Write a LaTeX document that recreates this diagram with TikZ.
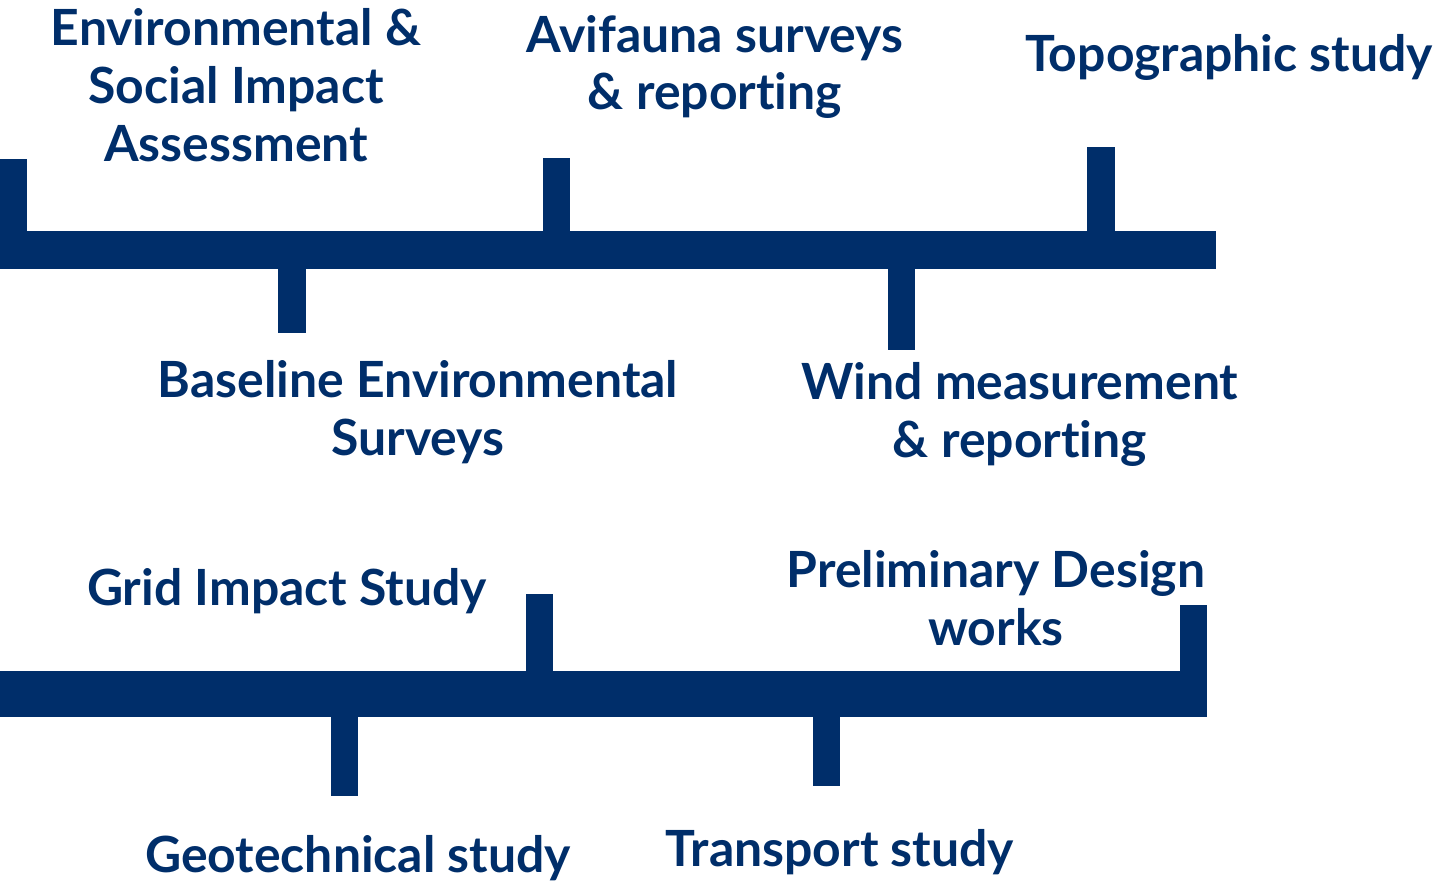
\documentclass[tikz,border=0pt]{standalone}
\usepackage{fontspec}
\setmainfont{Lato}[Ligatures=CommonOff]
\definecolor{navy}{RGB}{0,46,106}
\tikzset{
  lbl/.style={text=navy,font=\fontsize{28.4}{33}\selectfont\bfseries,align=center,inner sep=0pt},
  bar/.style={fill=navy}
}

\begin{document}
\begin{tikzpicture}[x=0.02cm,y=-0.02cm]
\useasboundingbox (0,0) rectangle (1438,883);

% upper line
\fill[bar] (0,231) rectangle (1216,269);
\fill[bar] (0,159) rectangle (27,231);
\fill[bar] (278,269) rectangle (306,333);
\fill[bar] (543,158) rectangle (570,231);
\fill[bar] (888,269) rectangle (915,350);
\fill[bar] (1087,147) rectangle (1115,231);

% lower line
\fill[bar] (0,671) rectangle (1207,717);
\fill[bar] (526,594) rectangle (553,671);
\fill[bar] (331,717) rectangle (358,796);
\fill[bar] (813,717) rectangle (840,786);
\fill[bar] (1180,605) rectangle (1207,671);

\node[lbl] (esia) at (236,85) {Environmental \&\\Social Impact\\Assessment};
\node[lbl] (avi) at (715,67) {Avifauna surveys\\\& reporting};
\node[lbl] (topo) at (1229,57) {Topographic study};
\node[lbl] (base) at (418,412) {Baseline Environmental\\Surveys};
\node[lbl] (wind) at (1020,414) {Wind measurement\\\& reporting};
\node[lbl] (grid) at (287,591) {Grid Impact Study};
\node[lbl] (prelim) at (996,598) {Preliminary Design\\works};
\node[lbl] (geo) at (358,858) {Geotechnical study};
\node[lbl] (trans) at (840,852) {Transport study};
\end{tikzpicture}
\end{document}
